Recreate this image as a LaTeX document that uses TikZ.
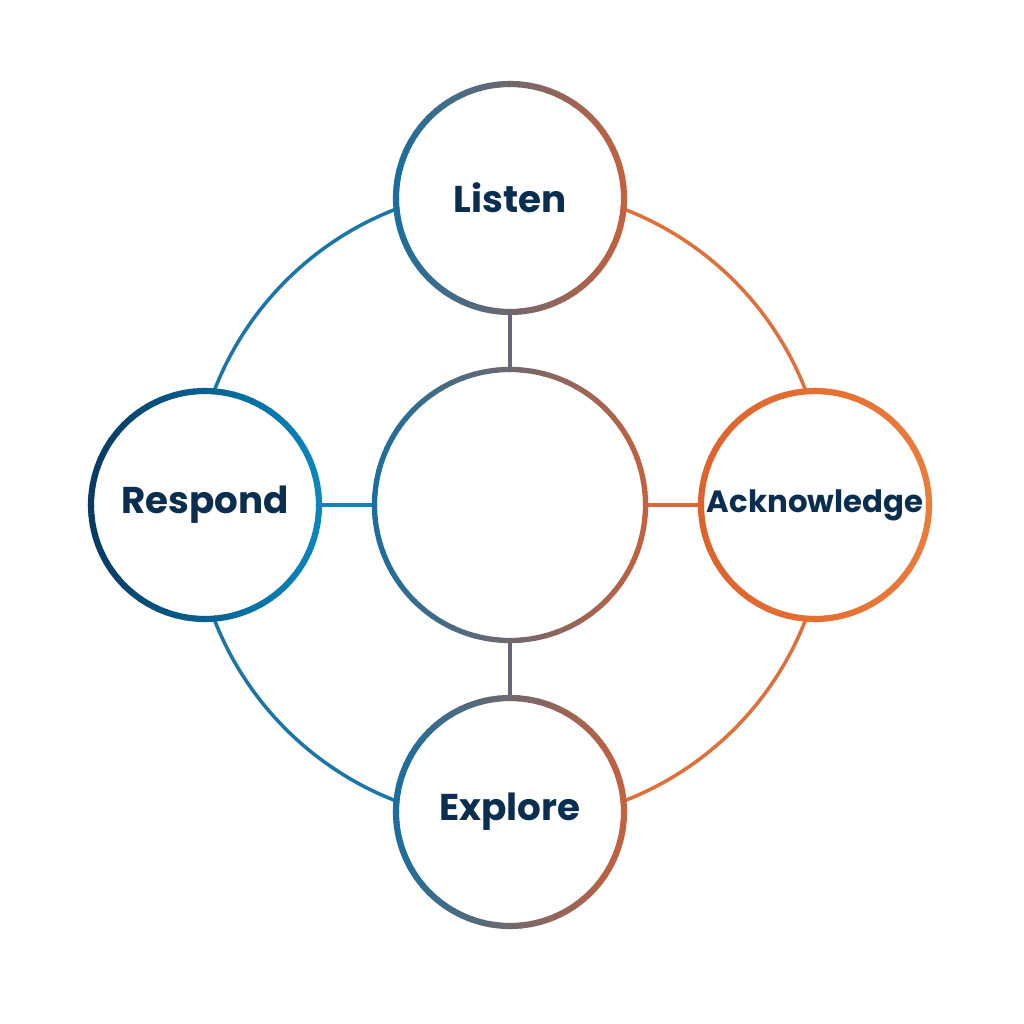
\documentclass[tikz,border=0pt]{standalone}
\usepackage{fontspec}
\setmainfont{Poppins}
\usetikzlibrary{backgrounds}

\definecolor{labeltext}{HTML}{0B2E50}
\definecolor{stepblue}{HTML}{1B6E9E}
\definecolor{steporange}{HTML}{C4613E}
\definecolor{respleft}{HTML}{083A63}
\definecolor{respright}{HTML}{0A87BE}
\definecolor{ackleft}{HTML}{DF622B}
\definecolor{ackright}{HTML}{EC7B3A}
\definecolor{ringblue}{HTML}{1A75A8}
\definecolor{ringorange}{HTML}{E0703A}
\definecolor{linkgrey}{HTML}{6A6379}
\definecolor{linkteal}{HTML}{1583B8}
\definecolor{linkorange}{HTML}{DA683A}

% circle outline shaded from left colour to right colour
\newcommand*{\gradring}[5]{%
	\foreach \a in {0,5,...,355} {
		\pgfmathsetmacro{\mix}{50*(1+cos(\a+2.5))}
		\draw[line width=#3, draw=#5!\mix!#4] (#1.center) ++(\a:#2)
			arc[start angle=\a, end angle=\a+5.6, radius=#2];
	}
}

\begin{document}
\begin{tikzpicture}
[
	x=0.01cm,
	y=0.01cm,
	stepnode/.style={circle,fill=white,inner sep=0pt,minimum size=2.28cm,
		text=labeltext,font=\bfseries\fontsize{10.6}{12}\selectfont},
	hubnode/.style={circle,fill=white,inner sep=0pt,minimum size=2.71cm},
	link/.style={line width=1.2pt},
	ringline/.style={line width=1pt}
]

	\useasboundingbox (-510,-519) rectangle (514,505);

	% nodes
	\node[hubnode] (hub) at (0,0) {};
	\node[stepnode] (listen) at (0,307) {Listen};
	\node[stepnode] (explore) at (0,-307) {Explore};
	\node[stepnode] (respond) at (-305,0) {Respond};
	\node[stepnode,font=\bfseries\fontsize{8.75}{10}\selectfont] (ack) at (305,0) {Acknowledge};

	% outer ring
	\begin{scope}[on background layer]
		\fill[white] (-510,-519) rectangle (514,505);
		\draw[ringline,ringblue] (hub.center) ++(90:317) arc[start angle=90, end angle=270, radius=317];
		\draw[ringline,ringorange] (hub.center) ++(-90:317) arc[start angle=-90, end angle=90, radius=317];
	\end{scope}

	% spokes
	\draw[link,linkgrey] (listen) -- (hub);
	\draw[link,linkgrey] (explore) -- (hub);
	\draw[link,linkteal] (respond) -- (hub);
	\draw[link,linkorange] (ack) -- (hub);

	% outlines
	\gradring{hub}{135.5}{1.5pt}{stepblue}{steporange}
	\gradring{listen}{114}{1.75pt}{stepblue}{steporange}
	\gradring{explore}{114}{1.75pt}{stepblue}{steporange}
	\gradring{respond}{114}{1.75pt}{respleft}{respright}
	\gradring{ack}{114}{1.75pt}{ackleft}{ackright}

\end{tikzpicture}
\end{document}
